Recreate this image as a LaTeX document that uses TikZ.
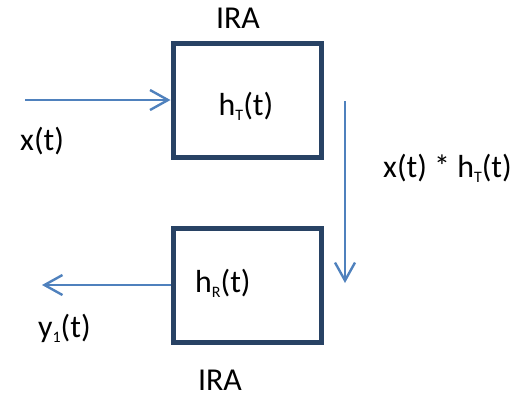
\documentclass[tikz,border=0pt]{standalone}
\usepackage{fontspec}
\setmainfont{Carlito}
\usetikzlibrary{arrows.meta}
\definecolor{boxnavy}{RGB}{40,66,100}
\definecolor{arrowblue}{RGB}{79,129,189}
\newcommand{\lowsub}[1]{\raisebox{-6pt}{\fontsize{16}{16}\selectfont #1}}
\begin{document}
\begin{tikzpicture}
[x=1bp,y=-1bp,
  font=\fontsize{32}{37}\selectfont,
  irabox/.style={draw=boxnavy,line width=5bp,minimum width=148bp,minimum height=114bp,inner sep=0pt},%
  sigarrow/.style={draw=arrowblue,line width=2.4bp,-{Straight Barb[length=18bp,width=20bp]}},%
  sigtext/.style={inner sep=0pt}]
\useasboundingbox (0,0) rectangle (513,397);
%% boxes
\node (tx) at (247,100) [irabox] {};
\node (rx) at (247,285) [irabox] {};
%% texts
\node (iratop) at (238,28) [sigtext,anchor=base] {IRA};
\node (hT) at (246,115) [sigtext,anchor=base] {h\lowsub{T}(t)};
\node (xin) at (20,150) [sigtext,anchor=base west] {x(t)};
\node (conv) at (383,177) [sigtext,anchor=base west] {x(t) * h\lowsub{T}(t)};
\node (hR) at (195,292) [sigtext,anchor=base west] {h\lowsub{R}(t)};
\node (yout) at (38,337) [sigtext,anchor=base west] {y\lowsub{1}(t)};
\node (irabot) at (220,390) [sigtext,anchor=base] {IRA};
%% signal ends
\coordinate (xstart) at (25,100);
\coordinate (cstart) at (345,101);
\coordinate (cend) at (345,283);
\coordinate (yend) at (42,285);
%% arrows
\draw[sigarrow] (xstart) -- (tx.west);
\draw[sigarrow] (cstart) -- (cend);
\draw[sigarrow] (rx.west) -- (yend);
\end{tikzpicture}
\end{document}
